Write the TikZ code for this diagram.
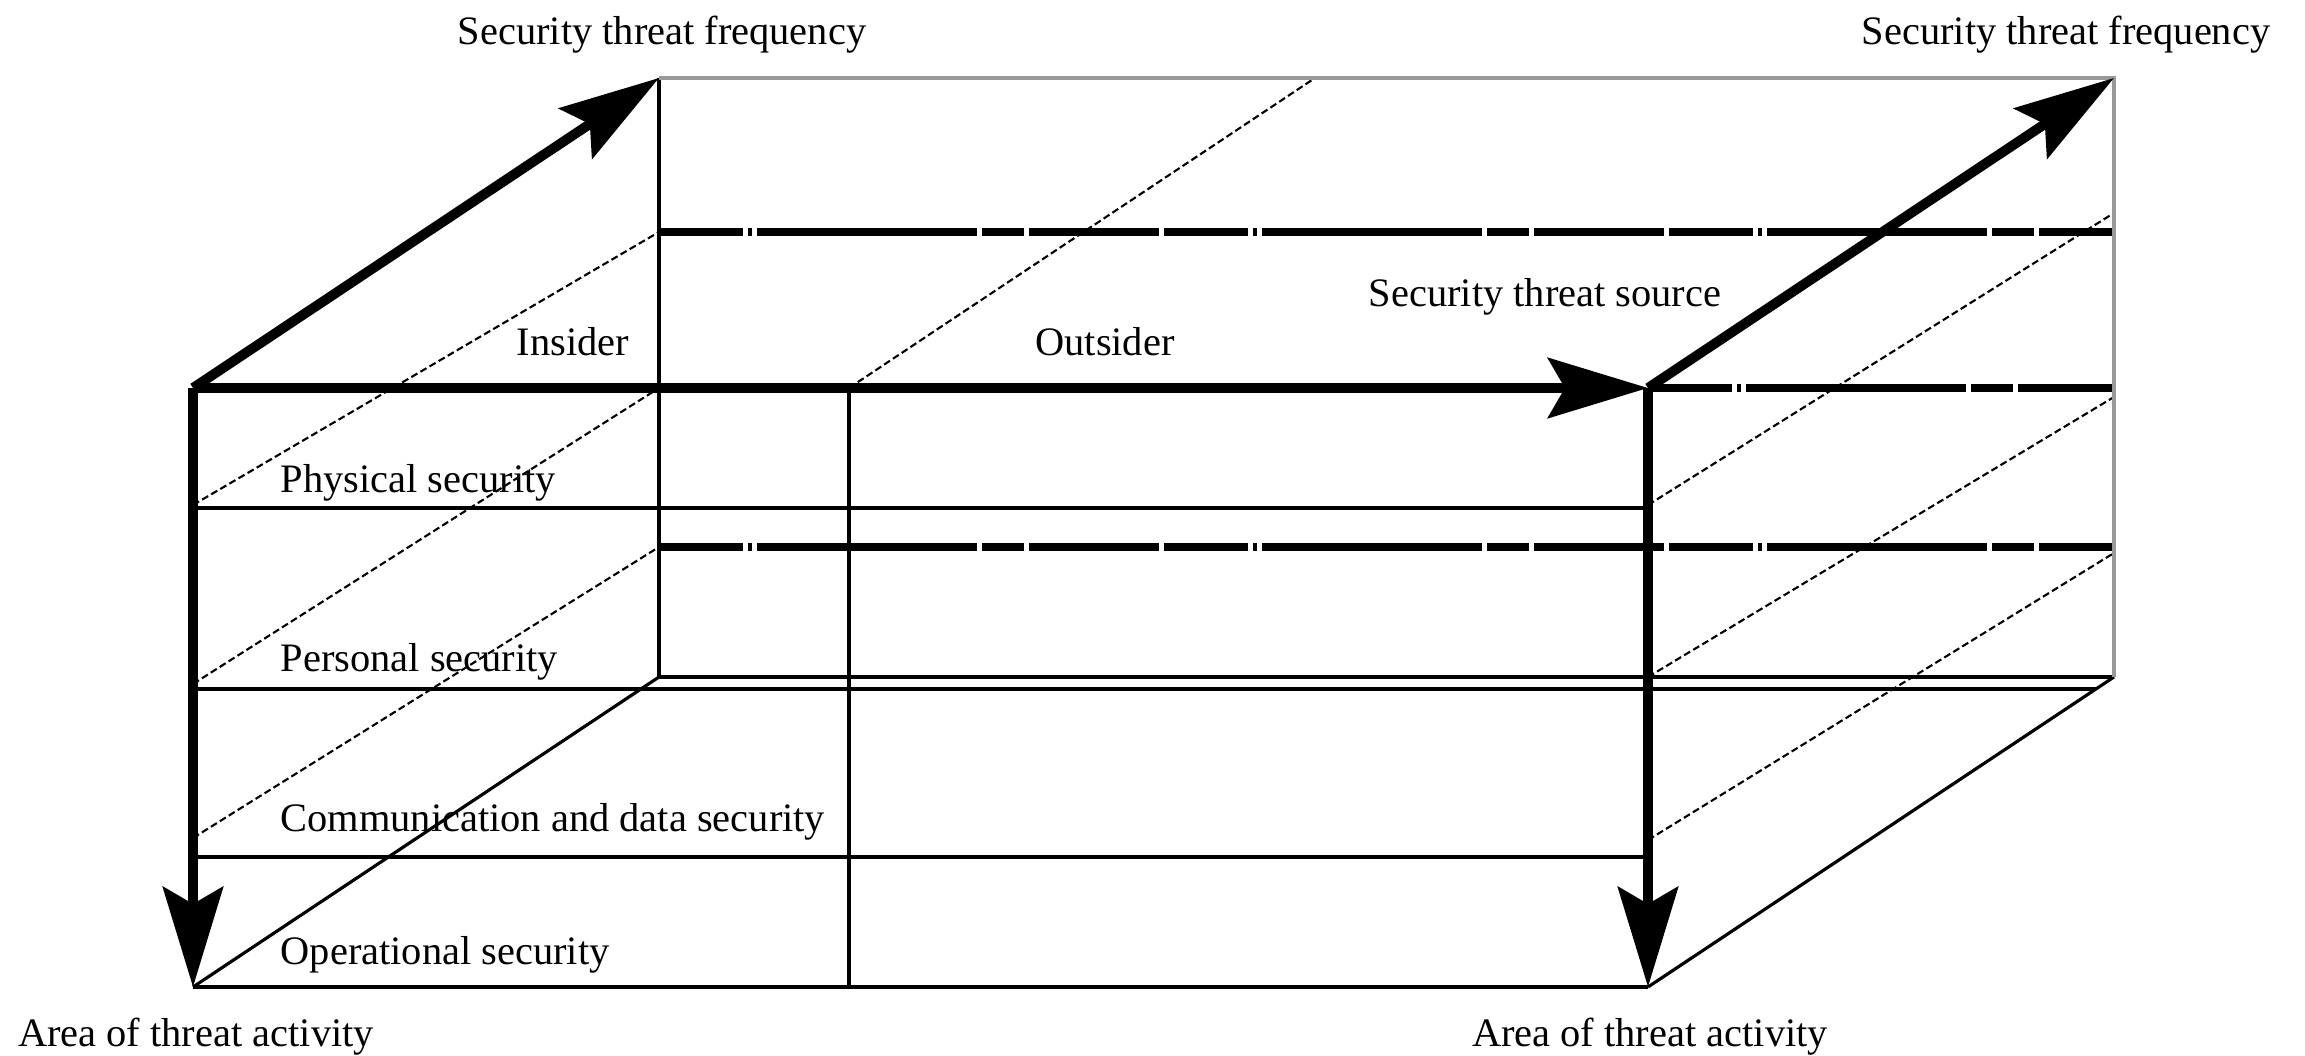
\documentclass[tikz,border=0pt]{standalone}
\usepackage{fontspec}
\setmainfont{Liberation Serif}
\usetikzlibrary{arrows.meta}

\begin{document}
\begin{tikzpicture}[
        axisarrow/.style={line width=2.8pt, -{Stealth[length=1cm, width=0.6cm, inset=0.17cm]}},
        boxline/.style={line width=0.9pt},
        backline/.style={line width=1.4pt, draw=black!40},
        levelline/.style={line width=2pt, dash pattern=on 0.84cm off 0.05cm on 0.04cm off 0.05cm on 2.2cm off 0.05cm on 0.42cm off 0.05cm on 1.3cm off 0.05cm},
        diagline/.style={line width=0.6pt, dash pattern=on 2pt off 1pt},
        lbl/.style={inner sep=0pt, font=\fontsize{11.5}{13}\selectfont}
    ]
    \useasboundingbox (0,0) rectangle (23.05,10.56);

    \coordinate (ftl) at (1.93,6.68);
    \coordinate (ftr) at (16.48,6.68);
    \coordinate (fbl) at (1.93,0.69);
    \coordinate (fbr) at (16.48,0.69);
    \coordinate (btl) at (6.59,9.78);
    \coordinate (btr) at (21.14,9.78);
    \coordinate (bbl) at (6.59,3.79);
    \coordinate (bbr) at (21.14,3.79);
    \coordinate (itop) at (8.49,6.68);
    \coordinate (ibot) at (8.49,0.69);

    \draw[diagline] (1.93,5.51) -- (6.59,8.24);
    \draw[diagline] (1.93,3.72) -- (6.59,6.68);
    \draw[diagline] (1.93,2.18) -- (6.59,5.09);
    \draw[diagline] (16.48,5.51) -- (21.14,8.43);
    \draw[diagline] (16.48,3.79) -- (21.14,6.59);
    \draw[diagline] (16.48,2.16) -- (21.14,5.03);
    \draw[diagline] (itop) -- (13.15,9.78);

    \draw[levelline] (6.59,8.24) -- (21.14,8.24);
    \draw[levelline] (16.48,6.68) -- (21.14,6.68);
    \draw[levelline] (6.59,5.09) -- (21.14,5.09);

    \draw[boxline] (btl) -- (bbl) -- (bbr);
    \draw[boxline] (fbl) -- (bbl);
    \draw[boxline] (fbr) -- (bbr);
    \draw[boxline] (fbl) -- (fbr);
    \draw[boxline] (itop) -- (ibot);
    \draw[boxline] (1.93,5.48) -- (16.48,5.48);
    \draw[boxline] (1.93,3.67) -- (20.96,3.67);
    \draw[boxline] (1.93,1.99) -- (16.48,1.99);
    \draw[backline] (btl) -- (btr) -- (bbr);

    \draw[axisarrow] (ftl) -- (fbl);
    \draw[axisarrow] (ftl) -- (ftr);
    \draw[axisarrow] (ftr) -- (fbr);
    \draw[axisarrow] (ftl) -- (btl);
    \draw[axisarrow] (ftr) -- (btr);

    \node[lbl, anchor=base] (freqA) at (6.62,10.11) {Security threat frequency};
    \node[lbl, anchor=base] (freqB) at (20.66,10.11) {Security threat frequency};
    \node[lbl, anchor=base] (insider) at (5.73,7.00) {Insider};
    \node[lbl, anchor=base] (outsider) at (11.05,7.00) {Outsider};
    \node[lbl, anchor=base] (source) at (15.45,7.49) {Security threat source};
    \node[lbl, anchor=base west] (physical) at (2.80,5.63) {Physical security};
    \node[lbl, anchor=base west] (personal) at (2.80,3.84) {Personal security};
    \node[lbl, anchor=base west] (comm) at (2.80,2.24) {Communication and data security};
    \node[lbl, anchor=base west] (operational) at (2.80,0.91) {Operational security};
    \node[lbl, anchor=base] (areaA) at (1.96,0.09) {Area of threat activity};
    \node[lbl, anchor=base] (areaB) at (16.50,0.09) {Area of threat activity};
\end{tikzpicture}
\end{document}
